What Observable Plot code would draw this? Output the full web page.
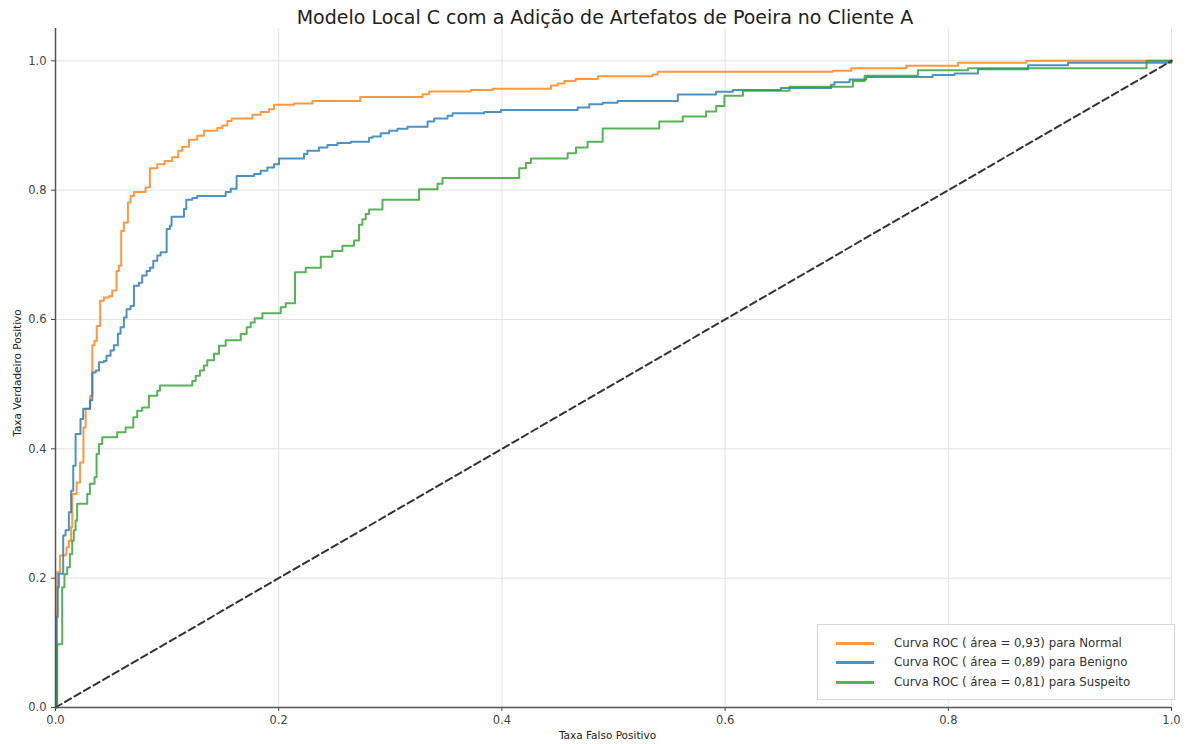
<!DOCTYPE html>
<html>
<head>
<meta charset="utf-8">
<script src="https://cdn.jsdelivr.net/npm/d3@7"></script>
<script src="https://cdn.jsdelivr.net/npm/@observablehq/plot@0.6"></script>
<style>
  body { margin: 0; background: #fff; font-family: "DejaVu Sans", sans-serif; }
  #wrap { position: relative; width: 1194px; height: 744px; }
  #title { position: absolute; left: 16px; right: 0; top: 4px; line-height: 26px; text-align: center; font-size: 19px; color: #222; z-index: 2; }
  #chart { position: absolute; left: 0; top: 24px; z-index: 1; }
  #legend { position: absolute; left: 817px; top: 624px; width: 356px; height: 74px; z-index: 3;
            border: 1px solid #d8d8d8; background: rgba(255,255,255,0.85); }
  .row { position: absolute; left: 0; height: 19px; font-size: 11.8px; color: #333; white-space: nowrap; }
  .row .sw { position: absolute; left: 18px; top: 8px; width: 38px; height: 3px; }
  .row .tx { position: absolute; left: 76px; top: 0; line-height: 19px; }
</style>
</head>
<body>
<div id="wrap">
  <div id="title"></div>
  <div id="chart"></div>
  <div id="legend"></div>
</div>
<script>
const titleText = "Modelo Local C com a Adição de Artefatos de Poeira no Cliente A";
const xLabel = "Taxa Falso Positivo";
const yLabel = "Taxa Verdadeiro Positivo";
const tickValues = [0, 0.2, 0.4, 0.6, 0.8, 1.0];
const seriesNames = ["Normal", "Benigno", "Suspeito"];
const seriesAuc = ["0,93", "0,89", "0,81"];
const seriesColors = ["#ff7f0e", "#1f77b4", "#2ca02c"];

const normalFpr = [0, 0.001, 0.0015, 0.004, 0.009, 0.0099, 0.012, 0.014, 0.015, 0.019, 0.022, 0.025, 0.027, 0.031, 0.033, 0.035, 0.037, 0.040, 0.0433, 0.0478, 0.0508, 0.0547, 0.0568, 0.0589, 0.0613, 0.0649, 0.0673, 0.0703, 0.0807, 0.0846, 0.0912, 0.0978, 0.1046, 0.110, 0.1136, 0.1196, 0.127, 0.133, 0.145, 0.1495, 0.154, 0.1578, 0.1764, 0.1839, 0.1913, 0.1958, 0.2137, 0.2302, 0.273, 0.3289, 0.3348, 0.3722, 0.3916, 0.444, 0.450, 0.456, 0.466, 0.486, 0.535, 0.5396, 0.6966, 0.713, 0.7623, 0.8087, 0.870, 1.0];
const normalTpr = [0, 0.145, 0.209, 0.235, 0.237, 0.248, 0.258, 0.279, 0.330, 0.348, 0.379, 0.433, 0.462, 0.482, 0.560, 0.567, 0.590, 0.629, 0.634, 0.636, 0.645, 0.675, 0.683, 0.737, 0.750, 0.781, 0.791, 0.797, 0.804, 0.834, 0.840, 0.845, 0.851, 0.861, 0.867, 0.878, 0.884, 0.892, 0.896, 0.900, 0.907, 0.911, 0.9165, 0.921, 0.925, 0.932, 0.934, 0.938, 0.944, 0.9485, 0.9526, 0.955, 0.957, 0.962, 0.965, 0.969, 0.972, 0.976, 0.979, 0.983, 0.9845, 0.9887, 0.9923, 0.997, 1.0, 1.0];

const benignoFpr = [0, 0.001, 0.002, 0.003, 0.0069, 0.009, 0.012, 0.014, 0.0159, 0.018, 0.0224, 0.0248, 0.031, 0.033, 0.036, 0.039, 0.0433, 0.0457, 0.0493, 0.0523, 0.0559, 0.0583, 0.0613, 0.0637, 0.0673, 0.0703, 0.0747, 0.0777, 0.0816, 0.0846, 0.0876, 0.0912, 0.0942, 0.0996, 0.1025, 0.104, 0.1151, 0.1172, 0.1226, 0.127, 0.1525, 0.157, 0.1623, 0.1779, 0.1839, 0.1898, 0.1958, 0.2003, 0.2227, 0.2257, 0.2362, 0.2437, 0.2526, 0.2646, 0.281, 0.284, 0.2915, 0.299, 0.3064, 0.3154, 0.3334, 0.3393, 0.3513, 0.3558, 0.3841, 0.3991, 0.4679, 0.4783, 0.4903, 0.5037, 0.5576, 0.5919, 0.607, 0.650, 0.695, 0.698, 0.7115, 0.7265, 0.786, 0.8056, 0.8266, 0.8715, 0.9073, 1.0];
const benignoTpr = [0, 0.14, 0.186, 0.207, 0.266, 0.274, 0.302, 0.335, 0.374, 0.423, 0.446, 0.462, 0.475, 0.518, 0.521, 0.534, 0.536, 0.544, 0.552, 0.560, 0.578, 0.588, 0.603, 0.616, 0.621, 0.652, 0.657, 0.668, 0.675, 0.680, 0.691, 0.699, 0.704, 0.740, 0.745, 0.759, 0.771, 0.785, 0.788, 0.791, 0.797, 0.802, 0.822, 0.825, 0.830, 0.835, 0.840, 0.849, 0.856, 0.861, 0.866, 0.870, 0.873, 0.875, 0.881, 0.883, 0.888, 0.892, 0.895, 0.898, 0.906, 0.911, 0.915, 0.919, 0.921, 0.924, 0.928, 0.933, 0.935, 0.938, 0.948, 0.952, 0.955, 0.958, 0.963, 0.967, 0.971, 0.975, 0.978, 0.9805, 0.987, 0.993, 0.997, 1.0];

const suspeitoFpr = [0, 0.0015, 0.006, 0.008, 0.0105, 0.0129, 0.015, 0.0164, 0.018, 0.0194, 0.0284, 0.0308, 0.035, 0.0368, 0.0389, 0.0419, 0.0553, 0.0628, 0.0697, 0.0732, 0.0777, 0.0837, 0.0912, 0.0936, 0.1226, 0.1256, 0.1294, 0.133, 0.136, 0.142, 0.1465, 0.1525, 0.166, 0.1713, 0.1749, 0.1785, 0.1854, 0.2018, 0.2063, 0.2146, 0.2242, 0.2377, 0.2481, 0.2571, 0.2675, 0.272, 0.275, 0.278, 0.281, 0.293, 0.3258, 0.3423, 0.3468, 0.4155, 0.4215, 0.426, 0.4589, 0.4664, 0.4768, 0.4903, 0.541, 0.562, 0.583, 0.592, 0.5994, 0.616, 0.6577, 0.7145, 0.725, 0.7728, 0.8177, 0.9776, 1.0];
const suspeitoTpr = [0, 0.098, 0.186, 0.206, 0.217, 0.2375, 0.258, 0.274, 0.289, 0.315, 0.330, 0.346, 0.356, 0.392, 0.4075, 0.418, 0.4255, 0.433, 0.449, 0.459, 0.464, 0.482, 0.490, 0.498, 0.505, 0.513, 0.521, 0.529, 0.537, 0.547, 0.5595, 0.568, 0.5775, 0.588, 0.5955, 0.602, 0.6095, 0.619, 0.625, 0.673, 0.680, 0.697, 0.706, 0.714, 0.722, 0.7465, 0.755, 0.763, 0.770, 0.785, 0.8015, 0.810, 0.819, 0.834, 0.842, 0.849, 0.857, 0.866, 0.875, 0.8955, 0.906, 0.914, 0.9216, 0.930, 0.946, 0.9536, 0.960, 0.969, 0.977, 0.9856, 0.9887, 1.0, 1.0];

const chanceX = [0, 1];
const chanceY = [0, 1];

const series = [
  {name: seriesNames[0], fpr: normalFpr, tpr: normalTpr, color: seriesColors[0]},
  {name: seriesNames[1], fpr: benignoFpr, tpr: benignoTpr, color: seriesColors[1]},
  {name: seriesNames[2], fpr: suspeitoFpr, tpr: suspeitoTpr, color: seriesColors[2]}
];
const rows = series.flatMap(s => s.fpr.map((f, i) => ({name: s.name, fpr: f, tpr: s.tpr[i]})));
const chance = chanceX.map((x, i) => ({x, y: chanceY[i]}));

document.getElementById("title").textContent = titleText;

const chart = Plot.plot({
  width: 1194,
  height: 720,
  marginLeft: 55,
  marginRight: 23,
  marginTop: 4,
  marginBottom: 37,
  style: {fontFamily: "'DejaVu Sans', sans-serif", fontSize: "11.5px", color: "#444", background: "transparent"},
  x: {domain: [0, 1], ticks: tickValues, tickFormat: d3.format(".1f"), label: null, tickSize: 4, tickPadding: 4},
  y: {domain: [0, 1.05], ticks: tickValues, tickFormat: d3.format(".1f"), label: null, tickSize: 4, tickPadding: 5},
  color: {domain: seriesNames, range: seriesColors},
  marks: [
    Plot.gridX(tickValues, {stroke: "#e3e3e3", strokeOpacity: 1, strokeWidth: 1}),
    Plot.gridY(tickValues, {stroke: "#e3e3e3", strokeOpacity: 1, strokeWidth: 1}),
    Plot.line(rows, {x: "fpr", y: "tpr", z: "name", stroke: "name", strokeWidth: 2, strokeOpacity: 0.8, curve: "step-after"}),
    Plot.line(chance, {x: "x", y: "y", stroke: "#333", strokeWidth: 2, strokeDasharray: "7,4"}),
    Plot.ruleX([0], {y1: 0, y2: 1.05, stroke: "#555", strokeWidth: 1.5}),
    Plot.ruleY([0], {x1: 0, x2: 1, stroke: "#555", strokeWidth: 1.5}),
    Plot.text([xLabel], {frameAnchor: "bottom", dx: -6, dy: 28, fontSize: 10.5, fill: "#222", textAnchor: "middle", lineAnchor: "middle"}),
    Plot.text([yLabel], {frameAnchor: "left", dx: -38, dy: 5, rotate: -90, fontSize: 10.5, fill: "#222", textAnchor: "middle", lineAnchor: "middle"})
  ]
});
document.getElementById("chart").appendChild(chart);

const legend = document.getElementById("legend");
series.forEach((s, i) => {
  const row = document.createElement("div");
  row.className = "row";
  row.style.top = (9 + i * 19.3) + "px";
  row.style.width = "100%";
  const sw = document.createElement("div");
  sw.className = "sw";
  sw.style.background = s.color;
  sw.style.opacity = 0.8;
  const tx = document.createElement("div");
  tx.className = "tx";
  tx.textContent = `Curva ROC ( área = ${seriesAuc[i]}) para ${s.name}`;
  row.appendChild(sw);
  row.appendChild(tx);
  legend.appendChild(row);
});
</script>
</body>
</html>
